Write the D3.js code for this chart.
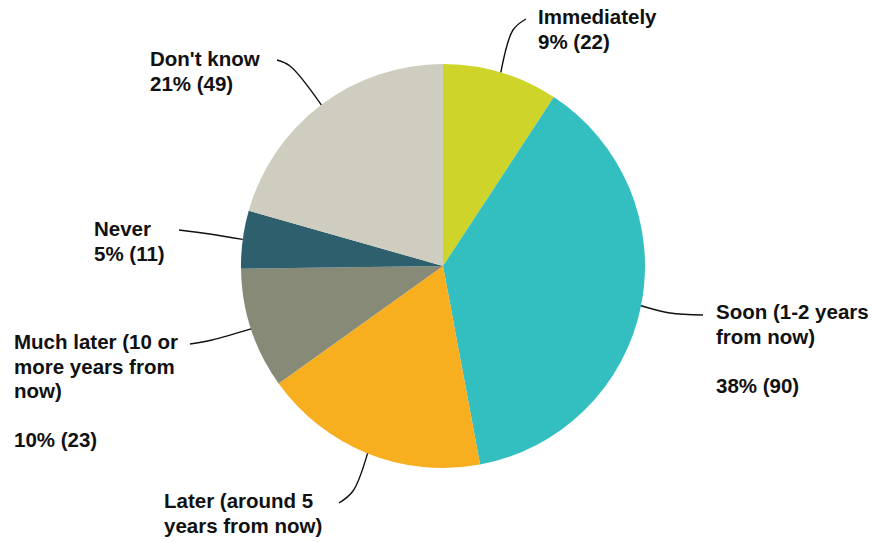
<!DOCTYPE html>
<html>
<head>
<meta charset="utf-8">
<script src="https://cdn.jsdelivr.net/npm/d3@7"></script>
<style>
  html, body { margin: 0; padding: 0; background: #fff; }
  text { font-family: "Liberation Sans", Arial, Helvetica, sans-serif; font-weight: bold; fill: #111; }
</style>
</head>
<body>
<svg id="chart" width="875" height="542"></svg>
<script>
const categories = ["Immediately", "Soon (1-2 years from now)", "Later (around 5 years from now)", "Much later (10 or more years from now)", "Never", "Don't know"];
const values = [22, 90, 43, 23, 11, 49];
const percents = ["9%", "38%", "18%", "10%", "5%", "21%"];
const colors = ["#CFD42B", "#33BEC0", "#F7AF1F", "#888A78", "#2E5F6C", "#CFCDBF"];

// label layout: lines of text (null = blank line)
const labelLines = [
  ["Immediately", "9% (22)"],
  ["Soon (1-2 years", "from now)", null, "38% (90)"],
  ["Later (around 5", "years from now)"],
  ["Much later (10 or", "more years from", "now)", null, "10% (23)"],
  ["Never", "5% (11)"],
  ["Don't know", "21% (49)"]
];
const labelPos = [
  {x: 538, y: 24, elbow: [513, 30], end: [526, 19]},
  {x: 716, y: 319, elbow: [670, 313], end: [703, 315]},
  {x: 164, y: 508, elbow: [353, 491], end: [339, 503]},
  {x: 14, y: 349, elbow: [212, 340], end: [190, 344]},
  {x: 94, y: 236, elbow: [210, 234], end: [179, 230]},
  {x: 150, y: 66, elbow: [290, 66], end: [277, 60]}
];

const svg = d3.select("#chart");
const cx = 443, cy = 266, R = 202;
const g = svg.append("g").attr("transform", `translate(${cx},${cy})`);

const pie = d3.pie().sort(null).value(d => d);
const arcs = pie(values);
const arc = d3.arc().innerRadius(0).outerRadius(R);

g.selectAll("path.slice").data(arcs).enter().append("path")
  .attr("class", "slice")
  .attr("d", arc)
  .attr("fill", (d, i) => colors[i]);

// leader lines
const line = d3.line().curve(d3.curveCatmullRom.alpha(0.5));
arcs.forEach((d, i) => {
  const a = (d.startAngle + d.endAngle) / 2;
  const sx = cx + R * Math.sin(a), sy = cy - R * Math.cos(a);
  const p = labelPos[i];
  svg.append("path")
    .attr("d", line([[sx, sy], p.elbow, p.end]))
    .attr("fill", "none")
    .attr("stroke", "#111")
    .attr("stroke-width", 1.4);
});

// labels
const lh = 24.5;
labelLines.forEach((lines, i) => {
  const p = labelPos[i];
  const t = svg.append("text").attr("font-size", 20.5);
  lines.forEach((s, j) => {
    if (s === null) return;
    t.append("tspan").attr("x", p.x).attr("y", p.y + j * lh).text(s);
  });
});
</script>
</body>
</html>
